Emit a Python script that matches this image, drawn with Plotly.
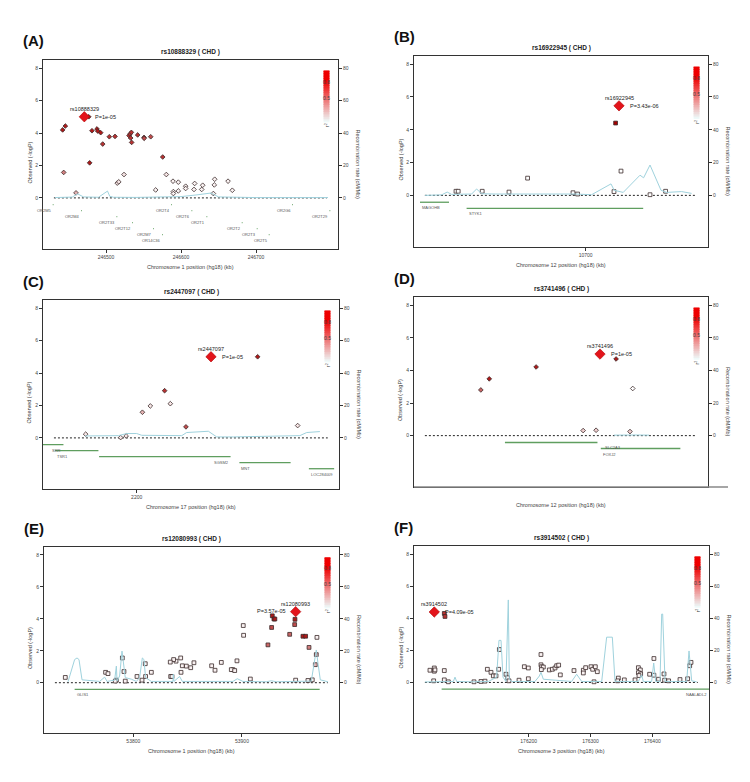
import plotly.graph_objects as go

# ── Panel A: rs10888329, chromosome 1 ─────────────────────────────────────────
A_SNP_KB = [246442.2, 246445.8, 246443.6, 246460.0, 246477.0, 246478.2, 246481.3,
            246488.0, 246489.0, 246492.9, 246495.6, 246504.4, 246512.0, 246515.0,
            246517.0, 246524.0, 246530.7, 246532.0, 246533.8, 246532.9, 246534.2,
            246542.2, 246550.7, 246550.9, 246559.6, 246566.2, 246575.6, 246580.4,
            246589.3, 246596.4, 246589.8, 246589.8, 246596.4, 246606.2, 246606.2,
            246618.2, 246617.3, 246628.9, 246627.6, 246643.1, 246644.9, 246644.4,
            246662.7, 246668.4]
A_SNP_LOGP = [4.19, 4.43, 1.57, 0.31, 5.00, 2.16, 4.14, 4.25, 4.12, 4.02, 3.32, 3.77,
              3.79, 0.91, 0.99, 1.44, 3.84, 3.94, 4.04, 3.69, 3.42, 3.88, 3.73, 3.67,
              3.77, 0.49, 2.52, 1.44, 1.03, 0.97, 0.39, 0.27, 0.43, 0.72, 0.58, 0.89,
              0.52, 0.78, 0.52, 0.27, 1.15, 0.80, 1.03, 0.47]
A_SNP_R2 = [0.9, 0.9, 0.5, 0.3, 0.9, 0.9, 0.9, 0.9, 0.9, 0.9, 0.8, 0.8, 0.8, 0.1, 0.1,
            0.1, 0.8, 0.8, 0.8, 0.8, 0.8, 0.8, 0.7, 0.7, 0.7, 0.05, 0.8, 0.1, 0.05, 0.05,
            0.05, 0.05, 0.05, 0.05, 0.05, 0.05, 0.05, 0.05, 0.05, 0.05, 0.05, 0.05,
            0.05, 0.05]
A_INDEX = ("rs10888329", 246471.1, 5.0, "P=1e-05")
A_REC_KB = [246432, 246455, 246462, 246470, 246490, 246502, 246505, 246510, 246540,
            246580, 246600, 246620, 246640, 246650, 246670, 246700, 246760, 246796]
A_REC_RATE = [0.2, 0.5, 2.5, 0.6, 0.4, 4.2, 1.0, 0.4, 0.3, 0.4, 0.8, 1.8, 3.0, 0.6,
              0.3, 0.2, 0.2, 0.2]
A_GENE_NAME = ["OR2M5", "OR2M4", "OR2T33", "OR2T12", "OR2M7", "OR14C36", "OR2T4",
               "OR2T6", "OR2T1", "OR2T2", "OR2T3", "OR2T5", "OR2G6", "OR2T29"]
A_GENE_START = [246429, 246467, 246514, 246535, 246563, 246575, 246587, 246614,
                246634, 246681, 246701, 246717, 246748, 246798]
A_GENE_END = [246430, 246468, 246515, 246536, 246564, 246576, 246588, 246615,
              246635, 246682, 246702, 246718, 246749, 246799]
A_GENE_ROW = [0, 1, 2, 3, 4, 5, 0, 1, 2, 3, 4, 5, 0, 1]
A_XTICKS = [246500, 246600, 246700]

# ── Panel B: rs16922945, chromosome 12 ────────────────────────────────────────
B_SNP_KB = [10715.0, 10717.7, 10671.0, 10635.2, 10636.3, 10648.3, 10661.7, 10693.7,
            10696.0, 10714.2, 10732.2, 10740.0]
B_SNP_LOGP = [4.41, 1.48, 1.05, 0.25, 0.25, 0.25, 0.20, 0.16, 0.08, 0.23, 0.04, 0.25]
B_SNP_R2 = [1.0, 0, 0, 0, 0, 0, 0, 0, 0, 0, 0, 0]
B_INDEX = ("rs16922945", 10716.7, 5.46, "P=3.43e-06")
B_REC_KB = [10619.7, 10628, 10630.8, 10633, 10643, 10645.5, 10648, 10654.7, 10694.7,
            10703, 10712.7, 10714.3, 10718.8, 10727.2, 10729, 10732.2, 10737.7,
            10740.5, 10748, 10753]
B_REC_RATE = [0.0, 0.3, 2.0, 0.6, 0.8, 3.9, 1.0, 0.8, 0.8, 0.4, 7.0, 3.1, 1.8, 12.3,
              10.7, 18.5, 3.1, 1.8, 2.3, 1.2]
B_GENE_NAME = ["MAGOHB", "STYK1"]
B_GENE_START = [10617.2, 10640.5]
B_GENE_END = [10631.7, 10728.8]
B_GENE_ROW = [0, 1]
B_XTICKS = [10700]

# ── Panel C: rs2447097, chromosome 17 ─────────────────────────────────────────
C_SNP_KB = [2255.0, 2212.7, 2206.2, 2202.6, 2215.3, 2222.4, 2176.8, 2192.7, 2195.2,
            2273.2]
C_SNP_LOGP = [5.0, 2.91, 1.97, 1.58, 2.11, 0.68, 0.23, 0.02, 0.12, 0.76]
C_SNP_R2 = [0.9, 0.8, 0.1, 0.3, 0.1, 0.7, 0.1, 0.1, 0.1, 0.1]
C_INDEX = ("rs2447097", 2233.8, 5.0, "P=1e-05")
C_REC_KB = [2176.5, 2191.7, 2195.5, 2200, 2202.3, 2220.5, 2222.7, 2228.8, 2232.6,
            2236.4, 2244, 2274.2, 2277.3, 2283.3]
C_REC_RATE = [1.2, 1.4, 2.7, 2.7, 1.6, 1.4, 3.3, 3.9, 4.1, 0.6, 0.6, 1.4, 3.3, 3.9]
C_GENE_NAME = ["SRR", "TSR1", "SGSM2", "MNT", "LOC284009"]
C_GENE_START = [2150.0, 2162.9, 2182.9, 2246.7, 2278.3]
C_GENE_END = [2166.7, 2182.6, 2242.7, 2270.0, 2289.8]
C_GENE_ROW = [0, 1, 2, 3, 4]
C_XTICKS = [2200]

# ── Panel D: rs3741496, chromosome 12 ─────────────────────────────────────────
D_SNP_KB = [8053.1, 8012.3, 7988.4, 7984.1, 8061.6, 8036.3, 8042.9, 8060.2]
D_SNP_LOGP = [4.70, 4.21, 3.48, 2.80, 2.89, 0.31, 0.33, 0.25]
D_SNP_R2 = [0.9, 0.9, 0.9, 0.6, 0.0, 0.2, 0.2, 0.2]
D_INDEX = ("rs3741496", 8044.9, 5.0, "P=1e-05")
D_REC_KB = [8052, 8058, 8064, 8070]
D_REC_RATE = [0.3, 0.5, 0.4, 0.3]
D_GENE_NAME = ["SLC2A3", "FOXJ2"]
D_GENE_START = [7996.4, 8045.3]
D_GENE_END = [8043.6, 8085.9]
D_GENE_ROW = [0, 1]
D_XTICKS = []

# ── Panel E: rs12080993, chromosome 1 ─────────────────────────────────────────
E_SNP_KB = [53927.9, 53929.4, 53930.3, 53948.8, 53927.3, 53948.5, 53901.2, 53901.5,
            53943.9, 53956.1, 53958.6, 53969.0, 53923.9, 53961.7, 53968.4, 53967.5,
            53964.7, 53960.7, 53949.4, 53907.7, 53895.4, 53891.7, 53890.2, 53893.3,
            53881.0, 53875.2, 53872.1, 53855.8, 53852.8, 53848.8, 53845.1, 53843.6,
            53839.3, 53837.1, 53834.0, 53843.9, 53834.4, 53835.6, 53816.6, 53811.0,
            53811.3, 53808.0, 53803.4, 53789.9, 53791.4, 53792.6, 53784.4, 53783.4,
            53774.5, 53776.7, 53737.4]
E_SNP_LOGP = [4.19, 3.99, 3.99, 3.97, 3.46, 3.64, 3.58, 2.97, 3.03, 2.91, 2.91, 2.84,
              2.37, 2.21, 1.76, 1.13, 0.18, 0.14, 0.16, 0.23, 1.37, 0.82, 0.82, 0.76,
              1.27, 0.78, 1.06, 1.25, 0.94, 1.04, 1.06, 1.55, 1.35, 1.45, 1.29, 0.65,
              0.39, 0.39, 0.65, 1.19, 0.39, 0.16, 0.39, 1.55, 0.70, 0.10, 0.16, 0.10,
              0.65, 0.57, 0.33]
E_SNP_R2 = [0.9, 0.9, 0.9, 0.9, 0.7, 0.7, 0.05, 0.05, 0.6, 0.9, 0.9, 0.05, 0.6, 0.5,
            0.5, 0.3] + [0.05] * 35
E_INDEX = ("rs12080993", 53949.4, 4.45, "P=3.57e-05")
E_REC_KB = [53739.9, 53746.0, 53748.2, 53750.0, 53752.8, 53769.0, 53773.6, 53775.8,
            53782.8, 53784.4, 53785.0, 53787.4, 53789.6, 53791.1, 53792.6, 53798.2,
            53802.8, 53805.8, 53808.3, 53809.8, 53811.3, 53816.6, 53836.5, 53836.8,
            53837.4, 53842.6, 53845.1, 53891.7, 53895.7, 53900.9, 53922.4, 53927.0,
            53931.6, 53963.8, 53966.9, 53968.4, 53969.9, 53972.1, 53979.1]
E_REC_RATE = [0.6, 14.5, 15.5, 14.5, 1.8, 0.8, 3.5, 0.8, 1.6, 10.4, 1.0, 4.2, 19.8,
              12.5, 3.2, 2.2, 0.8, 3.2, 15.5, 14.5, 3.2, 0.8, 0.8, 5.3, 0.8, 3.9, 0.8,
              0.8, 2.5, 0.8, 0.6, 1.2, 0.6, 1.0, 12.5, 20.5, 12.5, 1.8, 0.6]
E_GENE_NAME = ["GLIS1"]
E_GENE_START = [53746.0]
E_GENE_END = [53971.5]
E_GENE_ROW = [0]
E_XTICKS = [53800, 53900]

# ── Panel F: rs3914502, chromosome 3 ──────────────────────────────────────────
F_SNP_KB = [176063.6, 176064.7, 176040.4, 176047.4, 176047.4, 176048.5, 176046.4,
            176063.6, 176063.6, 176070.1, 176111.6, 176122.9, 176129.4, 176133.2,
            176139.1, 176142.9, 176147.2, 176151.5, 176152.6, 176163.3, 176166.0,
            176168.2, 176184.4, 176193.0, 176199.5, 176199.5, 176219.9, 176219.9,
            176221.0, 176223.7, 176220.5, 176233.4, 176238.3, 176242.6, 176245.3,
            176248.5, 176251.2, 176273.3, 176288.4, 176292.2, 176288.4, 176300.8,
            176303.5, 176307.8, 176311.0, 176305.7, 176345.0, 176343.9, 176354.7,
            176372.0, 176377.4, 176380.6, 176377.4, 176381.1, 176378.4, 176395.6,
            176402.5, 176402.5, 176410.0, 176418.8, 176419.8, 176426.3, 176444.7,
            176457.1, 176460.4, 176462.5]
F_SNP_LOGP = [4.30, 4.11, 0.76, 0.90, 0.70, 0.78, 0.10, 0.74, 0.16, 0.04, 0.04, 0.06,
              0.08, 0.82, 0.63, 0.41, 0.41, 0.82, 2.05, 0.51, 0.29, 0.10, 0.14, 0.98,
              0.90, 0.23, 1.74, 1.10, 0.98, 0.96, 0.80, 0.78, 0.82, 0.90, 1.04, 1.08,
              0.47, 0.74, 0.76, 0.92, 0.59, 0.98, 0.82, 0.98, 0.67, 0.04, 0.27, 0.10,
              0.16, 0.16, 0.92, 0.78, 0.61, 0.53, 0.43, 0.51, 1.49, 0.45, 0.20, 0.53,
              0.14, 0.10, 0.18, 0.23, 1.04, 1.25]
F_SNP_R2 = [0.8, 0.8] + [0.05] * 64
F_INDEX = ("rs3914502", 176047.4, 4.39, "P=4.09e-05")
F_REC_KB = [176032.3, 176078.2, 176080.9, 176083.6, 176107.8, 176134.8, 176148.2,
            176152.0, 176155.3, 176158.5, 176163.3, 176166.0, 176167.1, 176168.7,
            176172.5, 176210.2, 176217.3, 176219.9, 176223.7, 176269.5, 176277.6,
            176285.7, 176318.1, 176326.1, 176335.3, 176339.6, 176377.4, 176382.7,
            176385.4, 176398.9, 176402.2, 176405.4, 176412.4, 176415.1, 176416.7,
            176420.5, 176455.5, 176459.3, 176463.6, 176471.7]
F_REC_RATE = [0.3, 0.6, 3.3, 0.6, 0.4, 0.6, 3.3, 26.2, 26.2, 3.3, 0.6, 51.4, 51.4,
              2.0, 0.6, 0.6, 4.0, 6.3, 2.0, 0.6, 5.1, 0.6, 0.6, 28.2, 28.2, 0.6, 0.6,
              4.7, 0.6, 0.6, 12.1, 0.6, 0.6, 42.6, 42.6, 0.6, 0.6, 19.6, 1.0, 0.4]
F_GENE_NAME = ["NAALADL2"]
F_GENE_START = [176059.3]
F_GENE_END = [176520.0]
F_GENE_ROW = [0]
F_XTICKS = [176200, 176300, 176400]

# ── Layout / style ────────────────────────────────────────────────────────────
W, H = 750, 782
FONT = "Liberation Sans, Arial, sans-serif"
REC_COLOR = "#9fd2dd"
GENE_COLOR = "#5f9e5f"
AXIS_COLOR = "#333333"
YRANGE = [-3.15, 8.5]

PANELS = [
    dict(tag="(A)", title="rs10888329 ( CHD )", xtitle="Chromosome 1 position (hg18) (kb)",
         box=(43, 60, 338, 249), xrange=[246416, 246809.3], symbol="diamond",
         kb=A_SNP_KB, logp=A_SNP_LOGP, r2=A_SNP_R2, index=A_INDEX, p_side="right",
         rec_kb=A_REC_KB, rec=A_REC_RATE, gname=A_GENE_NAME, gstart=A_GENE_START,
         gend=A_GENE_END, grow=A_GENE_ROW, glab=["end"] * 14, ticks=A_XTICKS),
    dict(tag="(B)", title="rs16922945 ( CHD )", xtitle="Chromosome 12 position (hg18) (kb)",
         box=(414, 56, 708, 247), xrange=[10614.2, 10761.2], symbol="square",
         kb=B_SNP_KB, logp=B_SNP_LOGP, r2=B_SNP_R2, index=B_INDEX, p_side="right",
         rec_kb=B_REC_KB, rec=B_REC_RATE, gname=B_GENE_NAME, gstart=B_GENE_START,
         gend=B_GENE_END, grow=B_GENE_ROW, glab=["start", "start"], ticks=B_XTICKS),
    dict(tag="(C)", title="rs2447097 ( CHD )", xtitle="Chromosome 17 position (hg18) (kb)",
         box=(43, 300, 339, 489), xrange=[2157.4, 2292.0], symbol="diamond",
         kb=C_SNP_KB, logp=C_SNP_LOGP, r2=C_SNP_R2, index=C_INDEX, p_side="right",
         rec_kb=C_REC_KB, rec=C_REC_RATE, gname=C_GENE_NAME, gstart=C_GENE_START,
         gend=C_GENE_END, grow=C_GENE_ROW,
         glab=["end", "start", "end", "start", "mid"], ticks=C_XTICKS),
    dict(tag="(D)", title="rs3741496 ( CHD )", xtitle="Chromosome 12 position (hg18) (kb)",
         box=(414, 297, 708, 487), xrange=[7950, 8100], symbol="diamond",
         kb=D_SNP_KB, logp=D_SNP_LOGP, r2=D_SNP_R2, index=D_INDEX, p_side="right",
         rec_kb=D_REC_KB, rec=D_REC_RATE, gname=D_GENE_NAME, gstart=D_GENE_START,
         gend=D_GENE_END, grow=D_GENE_ROW, glab=["after", "start"], ticks=D_XTICKS),
    dict(tag="(E)", title="rs12080993 ( CHD )", xtitle="Chromosome 1 position (hg18) (kb)",
         box=(44, 547, 339, 733), xrange=[53717.8, 53989.3], symbol="square",
         kb=E_SNP_KB, logp=E_SNP_LOGP, r2=E_SNP_R2, index=E_INDEX, p_side="left",
         rec_kb=E_REC_KB, rec=E_REC_RATE, gname=E_GENE_NAME, gstart=E_GENE_START,
         gend=E_GENE_END, grow=E_GENE_ROW, glab=["start"], ticks=E_XTICKS),
    dict(tag="(F)", title="rs3914502 ( CHD )", xtitle="Chromosome 3 position (hg18) (kb)",
         box=(414, 546, 709, 733), xrange=[176014.6, 176491.6], symbol="square",
         kb=F_SNP_KB, logp=F_SNP_LOGP, r2=F_SNP_R2, index=F_INDEX, p_side="right",
         rec_kb=F_REC_KB, rec=F_REC_RATE, gname=F_GENE_NAME, gstart=F_GENE_START,
         gend=F_GENE_END, grow=F_GENE_ROW, glab=["frame"], ticks=F_XTICKS),
]


def px(x):
    return x / W


def py(y):
    return 1 - y / H


def ld_fill(r2):
    g = int(255 * (1 - r2))
    return f"rgb({int(255 - 90 * r2)},{g},{g})"


def gene_y(row):
    return -0.42 - 0.37 * row


def note(x, y, text, size, color="#444", **kw):
    d = dict(x=x, y=y, xref="paper", yref="paper", text=text, showarrow=False,
             xanchor="center", yanchor="middle", font=dict(size=size, color=color))
    d.update(kw)
    return d


fig = go.Figure()
layout = dict(width=W, height=H, margin=dict(l=0, r=0, t=0, b=0),
              paper_bgcolor="white", plot_bgcolor="white", showlegend=False,
              font=dict(family=FONT, color="#333"))
annotations, shapes = [], []

for i, p in enumerate(PANELS, start=1):
    sx = "" if i == 1 else str(i)
    xref, yref, y2ref = f"x{sx}", f"y{sx}", f"y{i + 6}"
    l, t, r, b = p["box"]
    xr = p["xrange"]

    layout[f"xaxis{sx}"] = dict(
        domain=[px(l), px(r)], anchor=yref, range=xr, showgrid=False, zeroline=False,
        showline=True, mirror=True, linecolor=AXIS_COLOR, linewidth=1,
        ticks="outside" if p["ticks"] else "", ticklen=3, tickcolor=AXIS_COLOR,
        tickvals=p["ticks"], ticktext=[str(v) for v in p["ticks"]],
        tickfont=dict(size=5, color="#444"))
    layout[f"yaxis{sx}"] = dict(
        domain=[py(b), py(t)], anchor=xref, range=YRANGE, showgrid=False,
        zeroline=False, showline=True, mirror=True, linecolor=AXIS_COLOR, linewidth=1,
        ticks="outside", ticklen=3, tickcolor=AXIS_COLOR, tickvals=[0, 2, 4, 6, 8],
        tickfont=dict(size=5, color="#444"))
    layout[f"yaxis{i + 6}"] = dict(
        overlaying=yref, anchor=xref, side="right", range=[v * 10 for v in YRANGE],
        showgrid=False, zeroline=False, showline=True, linecolor=AXIS_COLOR,
        linewidth=1, ticks="outside", ticklen=3, tickcolor=AXIS_COLOR,
        tickvals=[0, 20, 40, 60, 80], tickfont=dict(size=5, color="#444"))

    # recombination rate
    fig.add_trace(go.Scatter(x=p["rec_kb"], y=p["rec"], mode="lines",
                             line=dict(color=REC_COLOR, width=1),
                             xaxis=xref, yaxis=y2ref, hoverinfo="skip"))

    # dotted baseline at -logP = 0
    shapes.append(dict(type="line", xref=f"{xref} domain", yref=yref, x0=0.037,
                       x1=0.962, y0=0, y1=0, layer="below",
                       line=dict(color="#222", width=1, dash="2px,2px")))

    # genes
    for name, g0, g1, row, how in zip(p["gname"], p["gstart"], p["gend"], p["grow"],
                                      p["glab"]):
        gy = gene_y(row)
        fig.add_trace(go.Scatter(x=[g0, g1], y=[gy, gy], mode="lines",
                                 line=dict(color=GENE_COLOR, width=1.3),
                                 xaxis=xref, yaxis=yref, hoverinfo="skip"))
        if how == "end":
            ax, anc = g1, "right"
        elif how == "mid":
            ax, anc = (g0 + g1) / 2, "center"
        elif how == "after":
            ax, anc = g1 + 3, "left"
        elif how == "frame":
            ax, anc = xr[1], "right"
        else:
            ax, anc = g0, "left"
        annotations.append(dict(x=ax, y=gy, xref=xref, yref=yref, text=name,
                                showarrow=False, xanchor=anc, yanchor="top", yshift=-1,
                                font=dict(size=4, color="#555")))

    # SNPs
    fig.add_trace(go.Scatter(
        x=p["kb"], y=p["logp"], mode="markers", xaxis=xref, yaxis=yref,
        marker=dict(symbol=p["symbol"], size=3.6 if p["symbol"] == "diamond" else 3.8,
                    color=[ld_fill(v) for v in p["r2"]],
                    line=dict(color="#3a2a2a", width=0.8)),
        hoverinfo="skip"))

    # index SNP
    name, ix, iy, ptxt = p["index"]
    fig.add_trace(go.Scatter(
        x=[ix], y=[iy], mode="markers", xaxis=xref, yaxis=yref,
        marker=dict(symbol="diamond", size=8, color="#e3141b",
                    line=dict(color="#b00000", width=0.6)),
        hoverinfo="skip"))
    annotations.append(dict(x=ix, y=iy, xref=xref, yref=yref, text=name,
                            showarrow=False, yshift=8, font=dict(size=5.5, color="#222")))
    if p["p_side"] == "right":
        annotations.append(dict(x=ix, y=iy, xref=xref, yref=yref, text=ptxt,
                                showarrow=False, xanchor="left", xshift=9,
                                font=dict(size=5.5, color="#222")))
    else:
        annotations.append(dict(x=ix, y=iy, xref=xref, yref=yref, text=ptxt,
                                showarrow=False, xanchor="right", xshift=-8, yshift=1,
                                font=dict(size=5.5, color="#222")))

    # r² colour key
    n = 30
    k0, k1 = 0.67, 0.945
    for j in range(n):
        a = min(1.0, (j + 0.5) / n * 1.25)
        g = int(255 * (1 - a))
        shapes.append(dict(type="rect", xref=f"{xref} domain", yref=f"{yref} domain",
                           x0=0.951, x1=0.971, y0=k0 + (k1 - k0) * j / n,
                           y1=k0 + (k1 - k0) * (j + 1.6) / n if j < n - 1 else k1,
                           line=dict(width=0), fillcolor=f"rgb(238,{g},{g})"))
    for lab, yy in (("0.8", 0.885), ("0.5", 0.80)):
        annotations.append(dict(x=0.962, y=yy, xref=f"{xref} domain",
                                yref=f"{yref} domain", text=lab, showarrow=False,
                                xanchor="center", yanchor="middle",
                                font=dict(size=5, color="#444")))
    annotations.append(dict(x=0.962, y=0.655, xref=f"{xref} domain",
                            yref=f"{yref} domain", text="r<sup>2</sup>",
                            showarrow=False, textangle=-90, xanchor="center",
                            yanchor="middle", font=dict(size=5, color="#444")))

    # panel letter, title, axis titles
    annotations.append(note(px(l - 22), py(t - 19), f"<b>{p['tag']}</b>", 15, "#111",
                            xanchor="left"))
    annotations.append(note(px((l + r) / 2), py(t - 8), f"<b>{p['title']}</b>", 6.5,
                            "#222"))
    annotations.append(note(px((l + r) / 2), py(b + 18), p["xtitle"], 5.5))
    annotations.append(note(px(l - 14), py((t + b) / 2 + 8), "Observed (-logP)", 5.5,
                            textangle=-90))
    annotations.append(note(px(r + 20), py((t + b) / 2 + 10),
                            "Recombination rate (cM/Mb)", 5.5, textangle=90))

# panel D: bottom axis line runs on past the frame
shapes.append(dict(type="line", xref="paper", yref="paper", x0=px(414), x1=px(728),
                   y0=py(487), y1=py(487), line=dict(color="#888", width=1.5)))

layout["annotations"] = annotations
layout["shapes"] = shapes
fig.update_layout(**layout)
fig.write_html("out.html", config={"displayModeBar": False},
               post_script="document.body.style.margin='0';")
